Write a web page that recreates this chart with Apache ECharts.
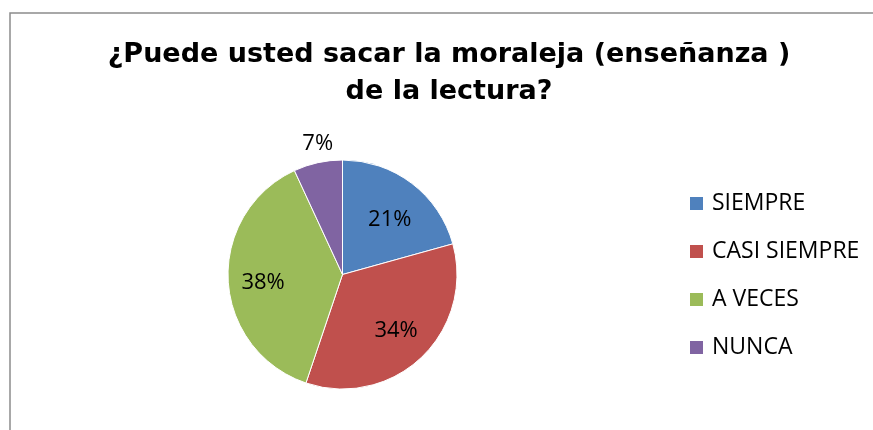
<!DOCTYPE html>
<html>
<head>
<meta charset="utf-8">
<script src="https://cdn.jsdelivr.net/npm/echarts@6/dist/echarts.min.js"></script>
<style>
  html, body { margin: 0; padding: 0; background: #fff; }
  #chart { width: 873px; height: 430px; }
</style>
</head>
<body>
<div id="chart"></div>
<script>
// answers (shown as 21% / 34% / 38% / 7%)
var categories = ['SIEMPRE', 'CASI SIEMPRE', 'A VECES', 'NUNCA'];
var counts = [6, 10, 11, 2];
var sliceColors = ['#4f81bd', '#c0504d', '#9bbb59', '#8064a2'];
var titleText = '¿Puede usted sacar la moraleja (enseñanza )\nde la lectura?';

var center = [342.5, 274.5];
var pieRadius = 114.5;

// small nudges so the percent labels sit where the original put them
var labelOffset = [[1, 6], [1, 1], [-3, 4], [4, 0]];

function pieData(showFor) {
  return categories.map(function (name, i) {
    var item = { name: name, value: counts[i] };
    if (showFor) {
      item.label = { show: showFor.indexOf(i) >= 0, offset: labelOffset[i] };
    }
    return item;
  });
}

var labelStyle = {
  color: '#000',
  fontFamily: 'Open Sans',
  fontSize: 22,
  formatter: '{d}%'
};

var chart = echarts.init(document.getElementById('chart'), null, { renderer: 'canvas' });

var option = {
  animation: false,
  color: sliceColors,
  title: {
    text: titleText,
    left: 449,
    top: 36,
    padding: 0,
    textAlign: 'center',
    textStyle: {
      fontFamily: 'DejaVu Sans',
      fontWeight: 'bold',
      fontSize: 27,
      lineHeight: 37,
      color: '#000'
    }
  },
  legend: {
    orient: 'vertical',
    left: 688,
    top: 192,
    padding: 0,
    itemWidth: 15,
    itemHeight: 15,
    itemGap: 25,
    icon: 'rect',
    selectedMode: false,
    data: categories,
    textStyle: {
      fontFamily: 'Open Sans',
      fontSize: 23,
      lineHeight: 23,
      padding: [0, 0, 0, 3],
      color: '#000'
    }
  },
  graphic: [{
    type: 'polyline',
    silent: true,
    shape: { points: [[10, 430], [10, 13], [873, 13]] },
    style: { stroke: '#8c8c8c', lineWidth: 1.5, fill: null }
  }],
  series: [
    {
      // the pie itself
      type: 'pie',
      center: center,
      radius: [0, pieRadius],
      startAngle: 90,
      percentPrecision: 0,
      silent: true,
      label: { show: false },
      labelLine: { show: false },
      itemStyle: { borderColor: '#fff', borderWidth: 1 },
      emphasis: { disabled: true },
      data: pieData()
    },
    {
      // labels inside the slices
      type: 'pie',
      center: center,
      radius: [32.5, pieRadius],
      startAngle: 90,
      percentPrecision: 0,
      silent: true,
      itemStyle: { color: 'transparent' },
      label: Object.assign({ position: 'inside' }, labelStyle),
      labelLine: { show: false },
      emphasis: { disabled: true },
      data: pieData([0, 1, 2])
    },
    {
      // small slice label sits above the pie
      type: 'pie',
      center: center,
      radius: [121, 141],
      startAngle: 90,
      percentPrecision: 0,
      silent: true,
      itemStyle: { color: 'transparent' },
      label: Object.assign({ position: 'inside' }, labelStyle),
      labelLine: { show: false },
      emphasis: { disabled: true },
      data: pieData([3])
    }
  ]
};

chart.setOption(option);
</script>
</body>
</html>
